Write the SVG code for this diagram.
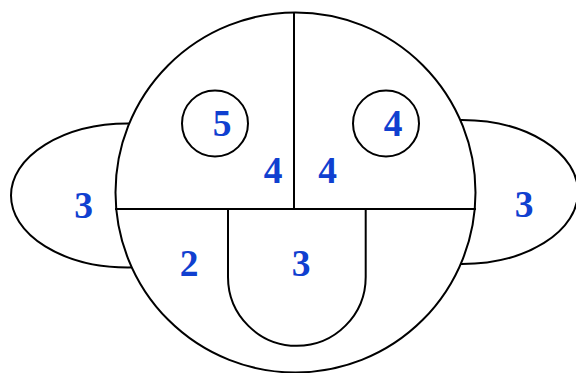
<svg xmlns="http://www.w3.org/2000/svg" width="576" height="373" viewBox="0 0 576 373">
<style>
.s{fill:#fff;stroke:#000;stroke-width:2}
.l{fill:none;stroke:#000;stroke-width:2}
.t{font-family:"Liberation Serif",serif;font-weight:bold;font-size:37.5px;fill:#1040d0;text-anchor:middle}
</style>
<rect width="576" height="373" fill="#fff"/>
<g id="left-ear"><ellipse class="s" cx="128" cy="195.5" rx="117" ry="72"/></g>
<g id="right-ear"><ellipse class="s" cx="462" cy="192" rx="116" ry="72"/></g>
<g id="head"><circle class="s" cx="295.5" cy="192.5" r="180"/></g>
<g id="connectors">
<line class="l" x1="115" y1="209" x2="476" y2="209"/>
<line class="l" x1="294" y1="12" x2="294" y2="209"/>
</g>
<g id="tongue"><path class="l" d="M228,209 V277 A68.8,68.8 0 0 0 365.7,277 V209"/></g>
<g id="left-eye"><circle class="s" cx="215" cy="123.5" r="33"/></g>
<g id="right-eye"><circle class="s" cx="386" cy="123.5" r="33"/></g>
<g id="labels">
<text class="t" x="222" y="136">5</text>
<text class="t" x="393" y="136">4</text>
<text class="t" x="273" y="182.5">4</text>
<text class="t" x="327.5" y="182.5">4</text>
<text class="t" x="83.5" y="217.5">3</text>
<text class="t" x="524" y="217">3</text>
<text class="t" x="301" y="276">3</text>
<text class="t" x="189" y="275.5">2</text>
</g>
</svg>
